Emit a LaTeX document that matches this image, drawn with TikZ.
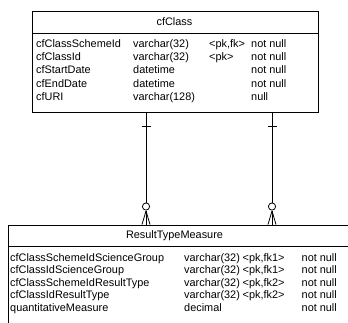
\documentclass[tikz,border=0pt]{standalone}
\usepackage{fontspec}
\setmainfont{Liberation Sans}
\begin{document}
\begin{tikzpicture}[x=1pt,y=-1pt,
  boxline/.style={draw=black,line width=0.8pt},
  cell/.style={anchor=base west,inner sep=0pt,font=\fontsize{10.9}{13}\selectfont},
  title/.style={anchor=center,inner sep=0pt,font=\fontsize{10.9}{13}\selectfont},
  conn/.style={draw=black,line width=0.8pt}]
\useasboundingbox (0,0) rectangle (348,322);
\clip (0,0) rectangle (348,322);
% top table
\node[boxline,minimum width=286pt,minimum height=101pt,anchor=north west,inner sep=0pt] (cls) at (32,11) {};
\draw[boxline] (32,33) -- (318,33);
\node[title] (clsT) at (174.5,22) {cfClass};
\foreach \r/\a/\b/\c/\d [count=\i] in {0/cfClassSchemeId/varchar(32)/{<pk,fk>}/not null,
  1/cfClassId/varchar(32)/{<pk>}/not null,
  2/cfStartDate/datetime//not null,
  3/cfEndDate/datetime//not null,
  4/cfURI/varchar(128)//null}{
  \pgfmathsetmacro\yy{47.5+13.2*\r}
  \node[cell] (a\i) at (36,\yy) {\a};
  \node[cell] (b\i) at (133,\yy) {\b};
  \node[cell] (c\i) at (209,\yy) {\c};
  \node[cell] (d\i) at (251,\yy) {\d};
}
% bottom table (runs past the right and bottom edges)
\node[boxline,minimum width=350pt,minimum height=120pt,anchor=north west,inner sep=0pt] (rtm) at (7.5,224.5) {};
\draw[boxline] (7.5,246.5) -- (357.5,246.5);
\node[title] (rtmT) at (174.5,235.5) {ResultTypeMeasure};
\foreach \r/\a/\b/\c/\d [count=\i] in {0/cfClassSchemeIdScienceGroup/varchar(32)/{<pk,fk1>}/not null,
  1/cfClassIdScienceGroup/varchar(32)/{<pk,fk1>}/not null,
  2/cfClassSchemeIdResultType/varchar(32)/{<pk,fk2>}/not null,
  3/cfClassIdResultType/varchar(32)/{<pk,fk2>}/not null,
  4/quantitativeMeasure/decimal//not null}{
  \pgfmathsetmacro\yy{261.5+12.4*\r}
  \node[cell] (e\i) at (10,\yy) {\a};
  \node[cell] (f\i) at (184,\yy) {\b};
  \node[cell] (g\i) at (242.5,\yy) {\c};
  \node[cell] (h\i) at (301.5,\yy) {\d};
}
% connectors
\foreach \x/\n in {146/L,272/R}{
  \coordinate (s\n) at (\x,112);
  \coordinate (o\n) at (\x,206.5);
  \coordinate (f\n) at (\x,211);
  \coordinate (t\n) at (\x,224.5);
  \draw[conn] (s\n) -- ([yshift=-3.5pt]o\n);
  \draw[conn] ([xshift=-4.5pt]\x,126) -- ([xshift=4.5pt]\x,126);
  \draw[conn,fill=white] (o\n) circle (3.6pt);
  \draw[conn] (f\n) -- (t\n);
  \draw[conn] (f\n) -- ([xshift=-4pt]t\n);
  \draw[conn] (f\n) -- ([xshift=4pt]t\n);
}
\end{tikzpicture}
\end{document}
